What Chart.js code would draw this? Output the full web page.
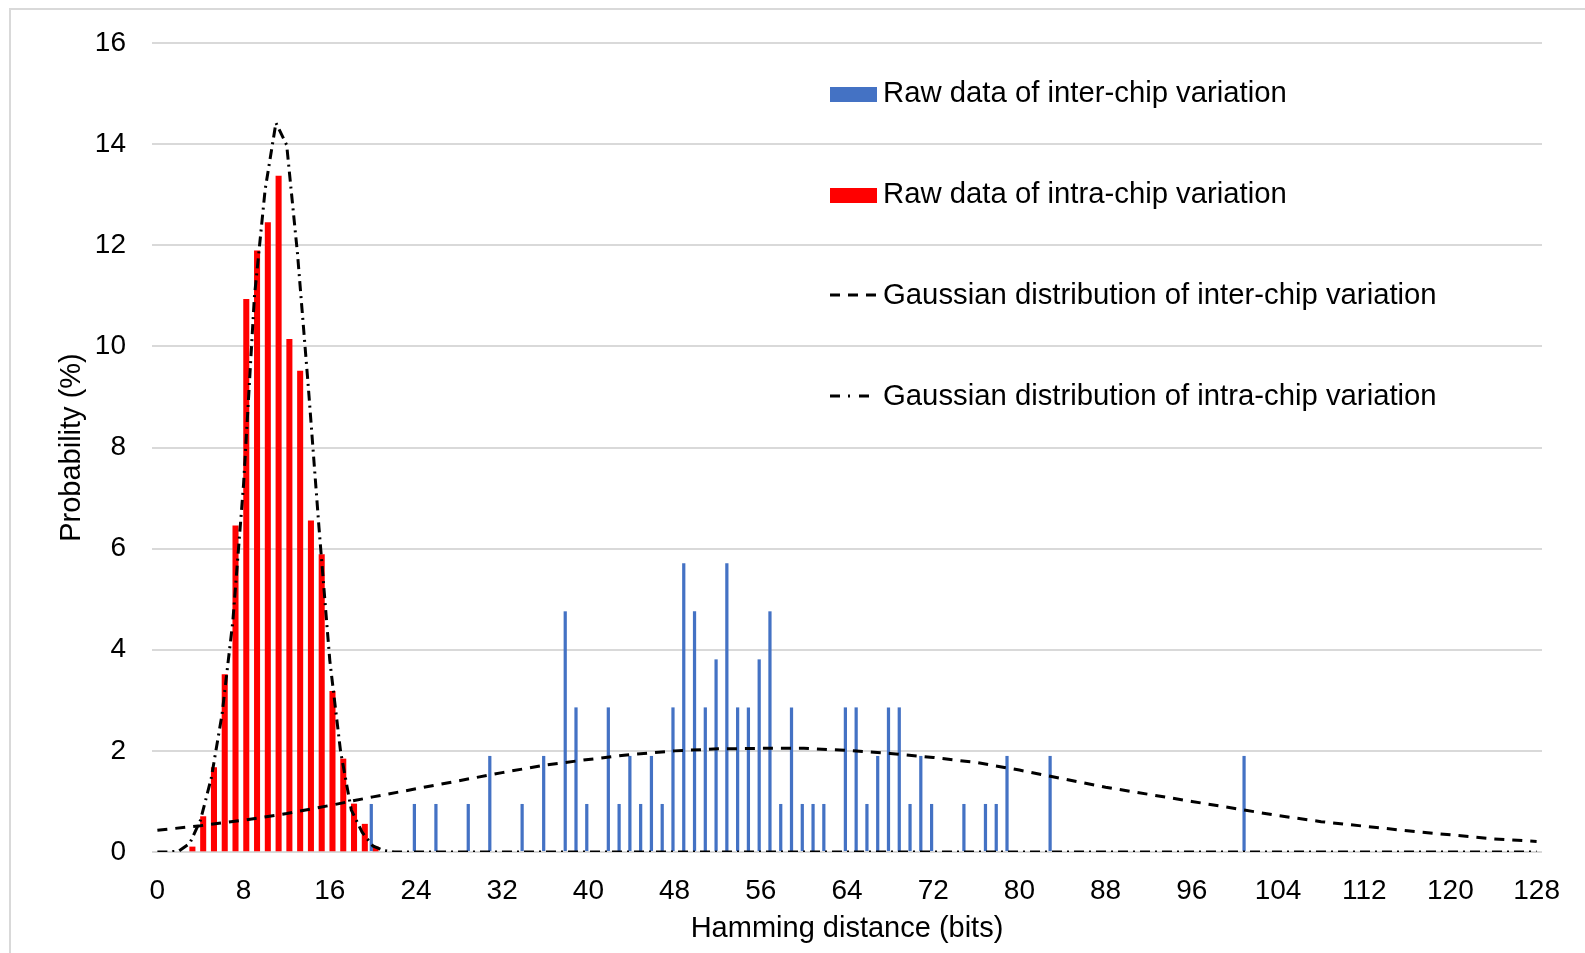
<!DOCTYPE html>
<html><head><meta charset="utf-8">
<script src="https://cdn.jsdelivr.net/npm/chart.js@4.4.0/dist/chart.umd.min.js"></script>
<style>
html,body{margin:0;padding:0;background:#fff;overflow:hidden;}
#wrap{position:relative;width:1585px;height:953px;}
#frame{position:absolute;left:9px;top:8px;width:1650px;height:1050px;border:2px solid #d9d9d9;box-sizing:border-box;}
canvas{position:absolute;left:0;top:0;}
</style></head><body>
<div id="wrap"><div id="frame"></div><canvas id="c" width="1585" height="953"></canvas></div>
<script>
// Inter-chip raw data (Hamming distance, probability %)
const interX = [20,24,26,29,31,34,36,38,39,40,42,43,44,45,46,47,48,49,50,51,52,53,54,55,56,57,58,59,60,61,62,64,65,66,67,68,69,70,71,72,75,77,78,79,83,101];
const interY = [0.95,0.95,0.95,0.95,1.90,0.95,1.90,4.76,2.86,0.95,2.86,0.95,1.90,0.95,1.90,0.95,2.86,5.71,4.76,2.86,3.81,5.71,2.86,2.86,3.81,4.76,0.95,2.86,0.95,0.95,0.95,2.86,2.86,0.95,1.90,2.86,2.86,0.95,1.90,0.95,0.95,0.95,0.95,1.90,1.90,1.90];
// Intra-chip raw data
const intraX = [3,4,5,6,7,8,9,10,11,12,13,14,15,16,17,18,19,20];
const intraY = [0.10,0.70,1.67,3.51,6.45,10.93,11.89,12.45,13.37,10.14,9.51,6.55,5.88,3.18,1.84,0.95,0.55,0.10];
// Gaussian fit of inter-chip variation
const interGaussX = [0,4,8,12,16,20,24,28,32,36,40,44,48,52,56,60,64,68,72,76,80,84,88,92,96,100,104,108,112,116,120,124,128];
const interGaussY = [0.43,0.52,0.63,0.76,0.92,1.09,1.25,1.41,1.57,1.72,1.83,1.93,2.00,2.04,2.05,2.05,2.01,1.95,1.87,1.77,1.62,1.45,1.28,1.14,1.00,0.86,0.72,0.60,0.51,0.42,0.34,0.26,0.21];
// Gaussian fit of intra-chip variation
const intraGaussX = [0,1,2,3,4,5,6,7,8,9,10,11,12,13,14,15,16,17,18,19,20,21,22,128];
const intraGaussY = [0,0,0.02,0.17,0.63,1.46,2.72,4.56,7.28,10.97,13.10,14.42,13.98,11.84,9.22,6.41,3.79,1.99,0.83,0.39,0.12,0.03,0,0];
// Axis ticks
const xTickValues = [0,8,16,24,32,40,48,56,64,72,80,88,96,104,112,120,128];
const yTickValues = [0,2,4,6,8,10,12,14,16];
const legendLabels = ['Raw data of inter-chip variation','Raw data of intra-chip variation','Gaussian distribution of inter-chip variation','Gaussian distribution of intra-chip variation'];

const FONT = "'Liberation Sans', Arial, sans-serif";
const pairs = (xs, ys) => xs.map((x, i) => ({x: x, y: ys[i]}));

const legendPlugin = {
  id: 'customLegend',
  afterDraw(chart) {
    const c = chart.ctx;
    const ds = chart.data.datasets;
    c.save();
    c.font = '29.3px ' + FONT;
    c.fillStyle = '#000';
    c.textBaseline = 'alphabetic';
    c.textAlign = 'left';
    legendLabels.forEach((t, i) => {
      const base = 101.5 + i * 101;
      if (i < 2) {
        c.fillStyle = ds[i].backgroundColor;
        c.fillRect(830, base - 14.5, 47, 15);
      } else {
        c.strokeStyle = '#000';
        c.lineWidth = 3;
        c.setLineDash(i === 2 ? [10, 8] : [10, 8, 2, 9]);
        c.beginPath();
        c.moveTo(830, base - 8.5);
        c.lineTo(i === 2 ? 877 : 871, base - 8.5);
        c.stroke();
        c.setLineDash([]);
      }
      c.fillStyle = '#000';
      c.fillText(t, 883, base);
    });
    c.restore();
  }
};

new Chart(document.getElementById('c'), {
  type: 'bar',
  data: {
    datasets: [
      {type: 'bar', label: legendLabels[0], data: pairs(interX, interY), backgroundColor: '#4472C4', categoryPercentage: 0.6, barPercentage: 1, order: 2},
      {type: 'bar', label: legendLabels[1], data: pairs(intraX, intraY), backgroundColor: '#FF0000', categoryPercentage: 1, barPercentage: 1, order: 2},
      {type: 'line', label: legendLabels[2], data: pairs(interGaussX, interGaussY), borderColor: '#000', borderWidth: 3, borderDash: [10, 8], pointRadius: 0, fill: false, tension: 0, order: 1},
      {type: 'line', label: legendLabels[3], data: pairs(intraGaussX, intraGaussY), borderColor: '#000', borderWidth: 3, borderDash: [10, 5, 2, 5], pointRadius: 0, fill: false, tension: 0, order: 1}
    ]
  },
  options: {
    responsive: false,
    animation: false,
    layout: {padding: {left: 0, right: 43, top: 43, bottom: 0}},
    plugins: {legend: {display: false}, tooltip: {enabled: false}},
    scales: {
      x: {
        type: 'linear', min: -0.5, max: 128.5, offset: false,
        afterBuildTicks: s => { s.ticks = xTickValues.map(v => ({value: v})); },
        grid: {display: false}, border: {display: false},
        ticks: {font: {family: FONT, size: 28}, color: '#000', padding: 14, maxRotation: 0, autoSkip: false},
        title: {display: true, text: 'Hamming distance (bits)', font: {family: FONT, size: 29}, color: '#000', padding: {top: 0, bottom: 7}},
        afterFit: s => { s.height = 101; }
      },
      y: {
        min: 0, max: 16,
        afterBuildTicks: s => { s.ticks = yTickValues.map(v => ({value: v})); },
        ticks: {font: {family: FONT, size: 28}, color: '#000', padding: 26},
        grid: {color: '#d9d9d9', lineWidth: 2, drawTicks: false},
        border: {display: false},
        title: {display: true, text: 'Probability (%)', font: {family: FONT, size: 29}, color: '#000', padding: {top: 55, bottom: 0}},
        afterFit: s => { s.width = 152; }
      }
    }
  },
  plugins: [legendPlugin]
});
</script>
</body></html>
